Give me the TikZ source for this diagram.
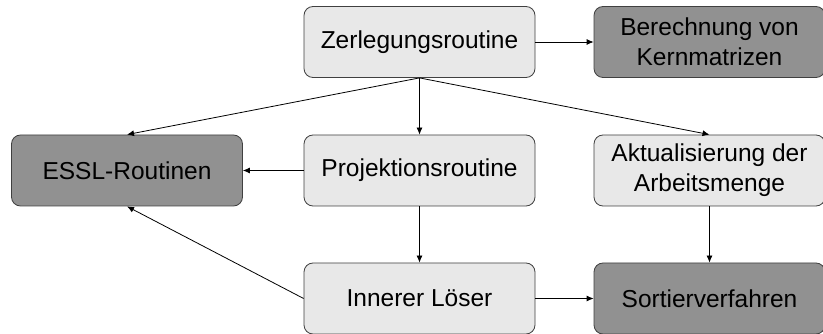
\documentclass[tikz,border=0pt]{standalone}
\usepackage{fontspec}
\setmainfont{Liberation Sans}
\usetikzlibrary{arrows.meta}
\definecolor{lightbox}{HTML}{E8E8E8}
\definecolor{darkbox}{HTML}{919191}
\definecolor{boxline}{HTML}{404040}
\tikzset{
  box/.style={draw=boxline, line width=0.8pt, rounded corners=9pt,
    minimum width=231pt, minimum height=71pt, inner sep=0pt,
    align=center, font=\fontsize{24.5pt}{30pt}\selectfont},
  lightnode/.style={box, fill=lightbox},
  darknode/.style={box, fill=darkbox},
  conn/.style={line width=0.8pt, -{Latex[length=7pt,width=6pt]}}
}
\begin{document}
\begin{tikzpicture}[x=1pt,y=-1pt]
\useasboundingbox (0,0) rectangle (823,334);
\node[lightnode] (zer) at (419.5,42) {Zerlegungsroutine};
\node[darknode]  (ber) at (709.5,42) {Berechnung von\\Kernmatrizen};
\node[darknode]  (essl) at (127,170.5) {ESSL-Routinen};
\node[lightnode] (proj) at (419.5,170.5) {Projektionsroutine};
\node[lightnode] (akt) at (709.5,170.5) {Aktualisierung der\\Arbeitsmenge};
\node[lightnode] (inn) at (419.5,298.5) {Innerer Löser};
\node[darknode]  (sort) at (709.5,298.5) {Sortierverfahren};

\draw[conn] (zer) -- (ber);
\draw[conn] (zer.south) -- (essl.north);
\draw[conn] (zer.south) -- (proj.north);
\draw[conn] (zer.south) -- (akt.north);
\draw[conn] (proj) -- (essl);
\draw[conn] (proj) -- (inn);
\draw[conn] (akt) -- (sort);
\draw[conn] (inn.west) -- (essl.south);
\draw[conn] (inn) -- (sort);
\end{tikzpicture}
\end{document}
